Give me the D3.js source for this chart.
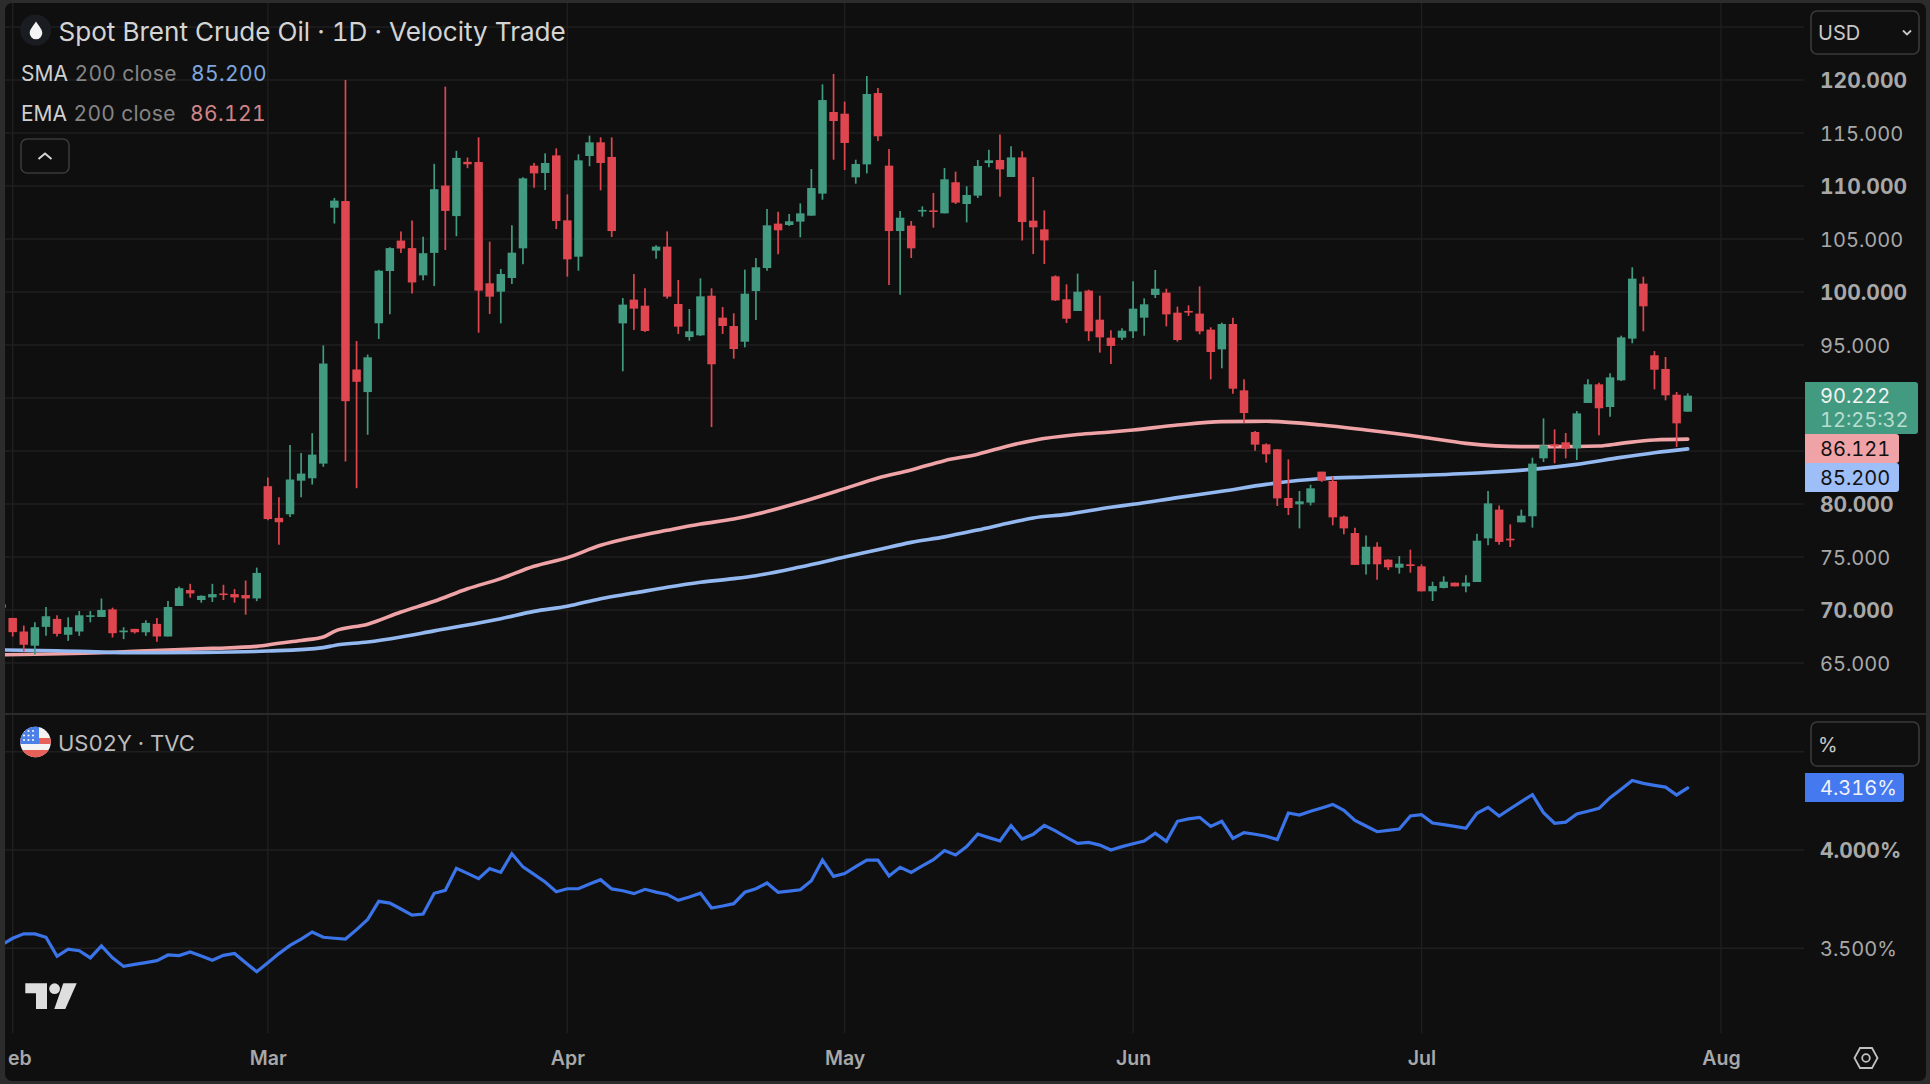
<!DOCTYPE html>
<html>
<head>
<meta charset="utf-8">
<script src="https://cdnjs.cloudflare.com/ajax/libs/d3/7.8.5/d3.min.js"></script>
<style>
  html, body { margin: 0; padding: 0; background: #2c2c2c; }
  svg { display: block; font-family: Inter, "Noto Sans", sans-serif; font-variant-numeric: tabular-nums; font-feature-settings: "tnum" 1; }
</style>
</head>
<body>
<svg id="chart" width="1930" height="1084"></svg>
<script>
// Daily Brent candles, one entry per session.
const opens = [70.22,69.25,67.97,66.63,68.41,69.16,67.66,67.97,69.35,69.34,70.06,67.9,68.22,67.9,68.69,67.5,70.38,71.88,70.94,71.19,71.56,71.5,71.41,71.09,81.68,78.69,79.03,82.2,82.43,83.81,107.95,108.58,92.69,90.56,97.05,101.98,104.85,104.14,101.57,103.69,110.04,107.16,112.28,112.26,100.82,100.03,101.32,104.12,111.92,111.23,112.89,106.76,103.33,112.83,114.12,112.74,97.04,99.28,98.71,103.9,104.28,98.87,95.75,95.91,99.65,97.58,96.79,95.31,100.09,102.26,106.45,106.32,106.64,107.2,109.28,116.98,116.82,110.82,112.04,118.77,111.92,105.75,106.26,107.6,107.7,107.42,110.35,108.3,109.09,112.17,112.45,110.85,112.7,106.73,105.91,101.48,99.31,98.21,100.13,97.39,95.69,95.69,96.29,97.58,99.72,99.94,98.05,98.21,97.96,96.45,94.59,96.98,90.72,86.79,85.63,85.16,80.57,79.97,80.13,83.05,82.17,78.81,77.26,74.31,75.97,74.75,73.99,74.31,74.12,71.76,72.08,72.58,72.23,72.64,76.76,79.47,76.73,78.27,78.84,84.31,85.63,85.82,85.25,89.53,91.29,89.15,91.67,95.6,100.79,94.03,92.74,90.31,88.71];
const highs = [70.53,69.25,68.53,68.84,70.28,69.5,69.31,69.91,69.91,71.09,70.22,68.38,68.22,69.03,69.25,70.84,72.22,72.47,71.38,72.47,72.38,71.97,72.78,74,82.5,80.63,85.56,84.81,86.68,94.96,108.88,120,95.37,94.1,102.09,104.22,105.71,106.75,105.22,112.09,119.37,113.32,112.69,114.59,104.75,102.17,106.29,110.82,112.17,113.08,113.55,109.21,112.99,114.75,114.59,114.59,99.43,101.7,100.35,104.4,105.72,101.13,98.4,101.29,100.35,98.58,97.99,102.11,103.21,107.83,107.58,107.36,108.36,111.6,119.59,120.57,117.96,112.48,120.38,119.25,113.49,107.64,106.7,108.08,109.34,111.7,111.35,109.97,112.45,113.43,114.87,113.74,113.27,110.85,107.7,101.57,100.72,101.73,100.22,99.65,96.38,96.57,101.01,99.4,102.08,100.31,98.62,98.74,100.53,96.67,97.11,97.58,91.76,86.89,85.72,85.19,84.21,81.23,81.82,83.05,82.58,78.9,77.77,77.04,76.38,74.78,75.09,75.69,74.31,72.67,73.18,72.58,73.27,77.2,81.23,79.87,78.08,79.47,84.37,88.08,87.04,86.7,88.77,91.76,91.45,92.33,95.88,102.33,101.45,94.43,93.87,90.57,90.44];
const lows = [70.22,67.5,66.09,65.78,67.56,67.5,67.09,67.56,68.84,69.34,67.41,67.25,67.78,67.56,67,67.5,70.38,71.16,70.69,70.75,70.94,70.69,69.56,70.84,78.47,76.16,78.77,80.63,81.83,83.51,106.46,84,81.49,86.53,95.56,97.91,103.69,99.85,101.12,100.56,103.96,105.26,111.68,96.16,97.92,97.04,100.75,102.61,109.84,109.62,105.94,101.45,102.01,111.86,109.59,105.19,92.52,96.42,96.23,103.14,99.37,96.04,95.41,95.85,87.26,96.04,93.71,94.78,97.36,102.01,103.55,106.23,105.16,107.2,108.71,112.48,111.51,110.22,111.19,114.25,100.66,99.75,103.21,107.11,106.07,107.42,108.3,106.57,108.87,111.76,108.99,110.85,104.87,103.58,102.64,99.15,97.08,98.21,95.38,94.28,93.21,95.47,95.66,95.88,99.43,96.76,95.31,97.74,96.01,91.76,92.8,90.41,87.64,85.03,83.9,79.81,78.96,77.7,79.87,82.08,77.99,77.14,74.25,73.36,72.86,73.77,73.43,73.52,71.76,70.85,72.04,72.23,71.67,72.64,76.1,76.16,75.94,78.27,77.77,83.96,83.84,84.31,84.15,89.53,86.48,88.24,91.6,95.16,96.29,90.82,89.78,85.38,88.71];
const closes = [70.53,67.91,66.72,68.38,69.41,67.75,68.38,69.5,69.5,70,67.81,68.06,67.9,68.78,67.5,70.28,72.06,71.56,71.34,71.5,71.44,71.19,71.09,73.5,78.58,78.28,82.31,82.87,84.66,93.25,108.62,89.7,91.53,93.84,102.01,104.14,104.1,100.9,103.66,109.7,107.65,112.65,112.05,100.13,99.56,101.7,103.71,110.72,111.19,112.17,106.7,103.08,112.42,114.12,112.17,105.75,98.81,98.43,96.32,104.28,99.56,96.73,96.29,99.59,93.18,96.79,94.62,99.84,102.33,106.29,105.82,106.67,107.42,109.81,118.11,116.13,114.06,112.08,118.68,114.69,105.75,107.01,104.12,107.74,107.58,110.63,108.43,109.15,111.89,112.42,111.57,112.7,106.6,106.1,104.87,99.21,97.48,100.03,96.29,95.72,94.91,96.35,98.43,98.84,100.31,97.89,95.47,98.08,96.29,94.34,96.98,90.88,88.58,85.6,84.69,80.53,79.62,80.25,81.48,82.2,78.74,77.7,74.25,75.97,74.31,74.03,74.37,74.15,71.76,72.26,72.67,72.23,72.58,76.54,80.06,76.42,76.57,78.9,83.81,85.53,85.44,85.22,88.55,91.29,89.03,91.95,95.72,101.26,98.65,92.67,90.25,87.61,90.222];

// Moving averages, read at the session positions listed beside them.
const emaBars = [0,9,15,19,23,25,27,29,30,33,36,39,42,45,48,51,54,57,60,63,66,68,72,76,79,82,85,88,91,93,97,100,102,106,110,114,119,123,128,132,137,140,144,146,149,152];
const emaValues = [65.78,65.97,66.23,66.38,66.57,66.87,67.13,67.46,67.99,68.66,69.81,70.82,72,72.96,74.12,74.94,76.1,76.89,77.52,78.11,78.58,79.03,80.16,81.45,82.45,83.21,84.09,84.7,85.55,86,86.55,86.79,86.98,87.45,87.77,87.8,87.45,86.98,86.32,85.72,85.41,85.41,85.47,85.72,86.04,86.121];
const smaBars = [0,5,12,18,24,29,30,33,36,39,43,45,48,51,54,57,60,63,66,68,72,76,79,82,85,88,91,93,96,100,102,106,110,114,119,123,128,133,138,142,146,149,152];
const smaValues = [66.23,66.16,65.97,66,66.13,66.45,66.66,66.98,67.46,68.03,68.77,69.18,69.87,70.35,71.07,71.6,72.14,72.61,72.96,73.24,74.06,75,75.69,76.38,76.9,77.55,78.25,78.68,79.02,79.69,79.97,80.6,81.2,81.85,82.4,82.55,82.7,82.92,83.27,83.74,84.4,84.84,85.2];

// US 2-year yield, one close per session, starting one session before the first full candle.
const yields = [3.517,3.551,3.574,3.573,3.556,3.459,3.496,3.488,3.451,3.512,3.452,3.408,3.418,3.427,3.437,3.466,3.463,3.481,3.461,3.439,3.464,3.474,3.427,3.381,3.427,3.473,3.515,3.547,3.583,3.556,3.551,3.547,3.595,3.647,3.739,3.73,3.7,3.669,3.674,3.78,3.795,3.907,3.881,3.854,3.905,3.886,3.981,3.914,3.876,3.837,3.788,3.803,3.803,3.827,3.849,3.802,3.793,3.778,3.8,3.786,3.774,3.744,3.761,3.78,3.705,3.715,3.727,3.785,3.803,3.832,3.785,3.791,3.798,3.844,3.949,3.866,3.88,3.915,3.949,3.949,3.868,3.912,3.886,3.919,3.951,3.997,3.975,4.017,4.081,4.063,4.046,4.124,4.056,4.08,4.125,4.097,4.064,4.034,4.039,4.025,4,4.017,4.032,4.046,4.085,4.044,4.146,4.158,4.166,4.12,4.146,4.059,4.088,4.08,4.07,4.053,4.188,4.178,4.197,4.214,4.232,4.202,4.151,4.122,4.093,4.1,4.107,4.173,4.18,4.137,4.129,4.12,4.11,4.187,4.217,4.173,4.21,4.246,4.281,4.19,4.136,4.142,4.183,4.197,4.212,4.266,4.309,4.354,4.339,4.329,4.32,4.28,4.316];

// Axis ticks. The first month sits against the panel edge, so only its tail is on show.
const priceGrid = [125,120,115,110,105,100,95,90,85,80,75,70,65];
const priceTicks = [120,115,110,105,100,95,80,75,70,65];
const boldPriceTicks = [120,110,100,80,70];
const yieldGrid = [4.5,4,3.5];
const yieldTicks = [4,3.5];
const boldYieldTicks = [4];
const monthNames = ["eb","Mar","Apr","May","Jun","Jul","Aug"];
const monthBars = [1,24,51,76,102,128,155];

const lastPrice = 90.222, lastEma = 86.121, lastSma = 85.2, lastYield = 4.316;

const colors = {
  frame: "#2c2c2c", bg: "#0f0f0f", grid: "#1f1f1f", sep: "#2b2b2b",
  up: "#429a80", down: "#e0464f", ema: "#efa3a6", sma: "#94b9f1", yield: "#3b74e8",
  axis: "#a8a8a8"
};

const svg = d3.select("#chart");
const x = d3.scaleLinear().domain([0, 155]).range([1.6, 1721]);
const yPrice = d3.scaleLinear().domain([120, 65]).range([80, 663]);
const yYield = d3.scaleLinear().domain([4, 3.5]).range([850, 948.3]);

// Panel background with the outer frame around it.
svg.append("rect").attr("width", 1930).attr("height", 1084).attr("fill", colors.frame);
svg.append("rect").attr("x", 5).attr("y", 3).attr("width", 1921).attr("height", 1078).attr("rx", 7).attr("fill", colors.bg);

const defs = svg.append("defs");
defs.append("clipPath").attr("id", "plot").append("rect").attr("x", 5).attr("y", 3).attr("width", 1799).attr("height", 1078);
defs.append("clipPath").attr("id", "flag").append("circle").attr("cx", 35.5).attr("cy", 742).attr("r", 15.3);

// Gridlines.
const grid = svg.append("g").attr("clip-path", "url(#plot)").attr("stroke", colors.grid).attr("stroke-width", 1.4);
grid.selectAll(".vg").data(monthBars).join("line").attr("x1", d => x(d)).attr("x2", d => x(d)).attr("y1", 3).attr("y2", 1033);
grid.selectAll(".hp").data(priceGrid).join("line").attr("x1", 5).attr("x2", 1804).attr("y1", d => yPrice(d)).attr("y2", d => yPrice(d));
grid.selectAll(".hy").data(yieldGrid).join("line").attr("x1", 5).attr("x2", 1804).attr("y1", d => yYield(d)).attr("y2", d => yYield(d));

// Pane separators.
svg.append("line").attr("x1", 5).attr("x2", 1926).attr("y1", 714).attr("y2", 714).attr("stroke", colors.sep).attr("stroke-width", 2);

// Moving averages sit under the candles.
const plot = svg.append("g").attr("clip-path", "url(#plot)");
const maLine = (bars, vals) => d3.line().x((d, i) => x(bars[i])).y(d => yPrice(d)).curve(d3.curveMonotoneX)(vals);
plot.append("path").attr("d", maLine(emaBars, emaValues)).attr("fill", "none").attr("stroke", colors.ema).attr("stroke-width", 3.6).attr("stroke-linecap", "round");
plot.append("path").attr("d", maLine(smaBars, smaValues)).attr("fill", "none").attr("stroke", colors.sma).attr("stroke-width", 3.6).attr("stroke-linecap", "round");

// Candles.
const candles = plot.selectAll(".candle").data(closes).join("g").attr("class", "candle");
const candleColor = i => closes[i] >= opens[i] ? colors.up : colors.down;
candles.append("line")
  .attr("x1", (d, i) => x(i)).attr("x2", (d, i) => x(i))
  .attr("y1", (d, i) => yPrice(highs[i])).attr("y2", (d, i) => yPrice(lows[i]))
  .attr("stroke", (d, i) => candleColor(i)).attr("stroke-width", 1.7);
candles.append("rect")
  .attr("x", (d, i) => x(i) - 4.25).attr("width", 8.5)
  .attr("y", (d, i) => yPrice(Math.max(opens[i], closes[i])))
  .attr("height", (d, i) => Math.max(1.6, Math.abs(yPrice(opens[i]) - yPrice(closes[i]))))
  .attr("fill", (d, i) => candleColor(i));

// Yield line.
plot.append("path")
  .attr("d", d3.line().x((d, i) => x(i)).y(d => yYield(d))(yields))
  .attr("fill", "none").attr("stroke", colors.yield).attr("stroke-width", 3.2)
  .attr("stroke-linejoin", "miter").attr("stroke-linecap", "round");

// Right-hand price scales.
function styleAxis(sel, bold) {
  sel.select(".domain").remove();
  sel.selectAll(".tick line").remove();
  sel.selectAll(".tick text")
    .attr("x", 0).attr("dy", "0.36em")
    .attr("text-anchor", "start")
    .attr("fill", colors.axis)
    .style("font-family", "Inter, sans-serif")
    .style("font-variant-numeric", "tabular-nums")
    .style("font-feature-settings", '"tnum" 1')
    .style("font-size", d => bold.includes(d) ? "21px" : "20px")
    .style("font-weight", d => bold.includes(d) ? 700 : 400);
}
svg.append("g").attr("transform", "translate(1820,0)")
  .call(d3.axisRight(yPrice).tickValues(priceTicks).tickFormat(d3.format(".3f")))
  .call(styleAxis, boldPriceTicks);
svg.append("g").attr("transform", "translate(1820,0)")
  .call(d3.axisRight(yYield).tickValues(yieldTicks).tickFormat(d => d3.format(".3f")(d) + "%"))
  .call(styleAxis, boldYieldTicks);

// Month axis.
svg.append("g").attr("transform", "translate(0,1058)")
  .call(d3.axisBottom(x).tickValues(monthBars).tickFormat((d, i) => monthNames[i]).tickSize(0))
  .call(g => g.select(".domain").remove())
  .call(g => g.selectAll(".tick text").attr("y", 0).attr("dy", "0.36em")
    .attr("dx", d => d === monthBars[0] ? 6.7 : 0)
    .attr("fill", colors.axis)
    .style("font-family", "Inter, sans-serif").style("font-size", "19.5px").style("font-weight", 600));

// Last-value tags.
function tag(xPos, y, w, h, fill) {
  svg.append("path").attr("fill", fill).attr("d", () => {
    const r = 3, x1 = xPos + w, y1 = y + h;
    return `M${xPos},${y}H${x1 - r}Q${x1},${y} ${x1},${y + r}V${y1 - r}Q${x1},${y1} ${x1 - r},${y1}H${xPos}Z`;
  });
}
function label(txt, lx, ly, size, fill, spacing) {
  return svg.append("text").attr("x", lx).attr("y", ly).attr("dy", "0.36em").attr("fill", fill)
    .style("font-size", size + "px").style("letter-spacing", (spacing || 0) + "px").text(txt);
}
tag(1805, 382, 113, 52, colors.up);
label(d3.format(".3f")(lastPrice), 1820, 396, 20, "#f2f2f2");
label("12:25:32", 1820, 420, 20, "#b8ddd1");
tag(1805, 434, 94, 29, "#f0a3a6");
label(d3.format(".3f")(lastEma), 1820, 449, 20, "#111111");
tag(1805, 463, 94, 29, "#9dbef6");
label(d3.format(".3f")(lastSma), 1820, 478, 20, "#111111");
tag(1805, 773, 99, 29, "#4479ef");
label(d3.format(".3f")(lastYield) + "%", 1820, 787.5, 20, "#eef2fb");

// Currency and unit selectors.
const box = (bx, by, w, h) => svg.append("rect").attr("x", bx).attr("y", by).attr("width", w).attr("height", h)
  .attr("rx", 6).attr("fill", "none").attr("stroke", "#3a3a3a").attr("stroke-width", 1.6);
box(1811, 11, 108, 43);
label("USD", 1818, 33, 20, "#c8c8c8");
svg.append("path").attr("d", "M1903,30.5l4,4l4,-4").attr("fill", "none").attr("stroke", "#c8c8c8").attr("stroke-width", 1.8);
box(1811, 722, 108, 44);
label("%", 1818, 745, 20, "#c8c8c8");

// Legend, top pane.
svg.append("circle").attr("cx", 35.7).attr("cy", 30).attr("r", 15.5).attr("fill", "#191c21");
svg.append("path").attr("fill", "#f4f4f4")
  .attr("d", "M36,21.5C33,26 29.7,29.5 29.7,33 A6.2,6.2 0 0 0 42.3,33 C42.3,29.5 39,26 36,21.5Z");
label("Spot Brent Crude Oil · 1D · Velocity Trade", 58.5, 31.5, 26.1, "#d4d4d4");

const legendRow = (y, name, val, valColor, valX) => {
  label(name, 21, y, 21, "#cfcfcf");
  label("200 close", name === "SMA" ? 74.5 : 73.5, y, 21, "#858585", 0.3);
  label(val, valX, y, 21, valColor, 0.4);
};
legendRow(73, "SMA", d3.format(".3f")(lastSma), "#7ea6dd", 191);
legendRow(113.5, "EMA", d3.format(".3f")(lastEma), "#cf8587", 190);

box(21, 139, 48, 34);
svg.append("path").attr("d", "M38.5,159l6.5,-5.5l6.5,5.5").attr("fill", "none").attr("stroke", "#d6d6d6").attr("stroke-width", 2);

// Legend, lower pane.
const flag = svg.append("g").attr("clip-path", "url(#flag)");
flag.append("rect").attr("x", 20).attr("y", 726).attr("width", 32).attr("height", 33).attr("fill", "#f3f3f3");
flag.selectAll(".stripe").data([738, 750]).join("rect")
  .attr("x", 20).attr("y", d => d).attr("width", 32).attr("height", d => d === 750 ? 9 : 6).attr("fill", "#e8605a");
flag.append("rect").attr("x", 20).attr("y", 726).attr("width", 19).attr("height", 18).attr("fill", "#4a80e8");
flag.selectAll(".star").data(d3.cross([24, 28.5, 33], [731, 735.5, 740])).join("circle")
  .attr("cx", d => d[0]).attr("cy", d => d[1]).attr("r", 1.1).attr("fill", "#f6f6f6");
label("US02Y · TVC", 58, 743.5, 22, "#bcbcbc");

// Logo mark.
const logo = svg.append("g").attr("fill", "#dedede");
logo.append("path").attr("d", "M25.3,983.3H47V1009H36V993.3H25.3Z");
logo.append("circle").attr("cx", 54.6).attr("cy", 988.7).attr("r", 5.4);
logo.append("path").attr("d", "M63.3,983.3H76.7L65.3,1009H54.3Z");

// Settings icon.
svg.append("path").attr("fill", "none").attr("stroke", "#c0c0c0").attr("stroke-width", 1.8)
  .attr("d", "M1854.5,1058L1860,1048H1872L1877.5,1058L1872,1068H1860Z");
svg.append("circle").attr("cx", 1866).attr("cy", 1058).attr("r", 3.8).attr("fill", "none").attr("stroke", "#c0c0c0").attr("stroke-width", 1.8);
</script>
</body>
</html>
